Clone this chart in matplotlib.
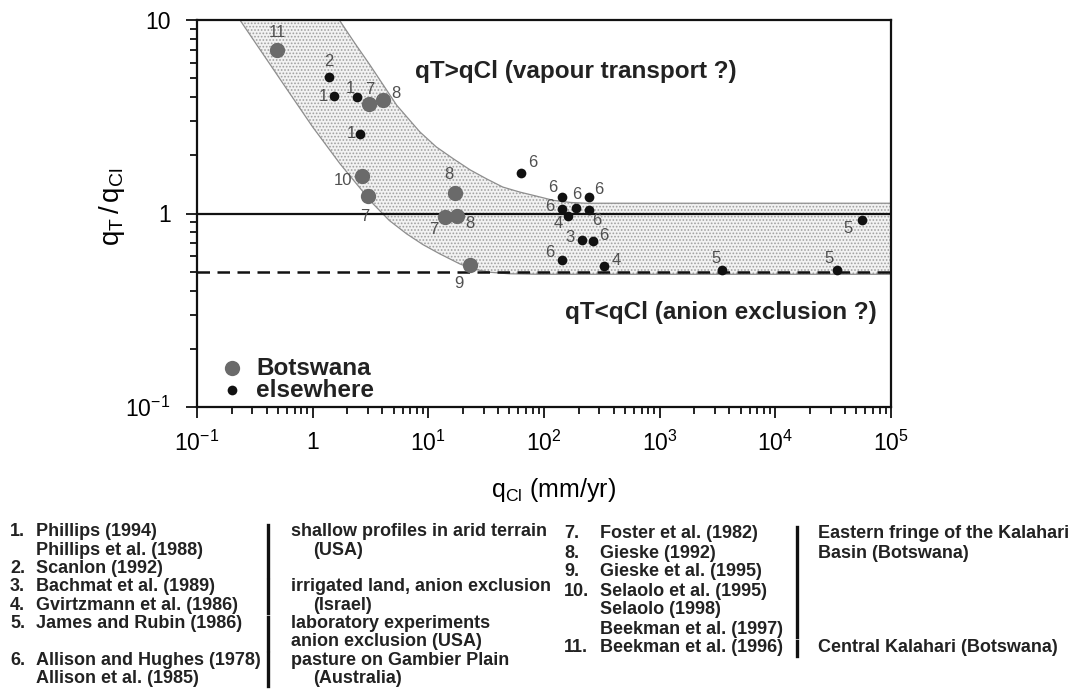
import matplotlib
matplotlib.use("Agg")
import matplotlib.pyplot as plt
from matplotlib.ticker import FixedLocator, FuncFormatter, NullFormatter

plt.rcParams["font.family"] = ["Liberation Sans", "DejaVu Sans"]
plt.rcParams["mathtext.fontset"] = "custom"
plt.rcParams["mathtext.rm"] = "Liberation Sans"
plt.rcParams["mathtext.it"] = "Liberation Sans:italic"
plt.rcParams["mathtext.bf"] = "Liberation Sans:bold"
plt.rcParams["hatch.linewidth"] = 0.8

# ---- data -------------------------------------------------------------
# Botswana studies: chloride flux q_Cl (mm/yr) and ratio q_T/q_Cl
bw_qcl = [0.49, 3.07, 4.08, 2.65, 3.03, 17.0, 13.9, 17.6, 22.9]
bw_ratio = [7.0, 3.67, 3.85, 1.56, 1.23, 1.28, 0.957, 0.976, 0.544]
bw_ref = ["11", "7", "8", "10", "7", "8", "7", "8", "9"]

# studies elsewhere
ot_qcl = [1.39, 1.53, 2.40, 2.56, 63.1, 142, 246, 142, 189, 246,
          160, 211, 263, 142, 330, 3470, 33800, 55900]
ot_ratio = [5.05, 4.04, 4.0, 2.59, 1.62, 1.22, 1.21, 1.06, 1.07, 1.04,
            0.976, 0.733, 0.725, 0.575, 0.533, 0.511, 0.511, 0.93]
ot_ref = ["2", "1", "1", "1", "6", "6", "6", "6", "6", "6",
          "4", "3", "6", "6", "4", "5", "5", "5"]

# envelope of the shaded band
band_upper_q = [1.70, 2.3, 3.13, 4.1, 5.32, 8.45, 11.7, 16.4, 23, 31.9,
                44, 61.9, 86, 120, 170, 233, 400, 1e5]
band_upper_r = [10.0, 7.63, 5.85, 4.59, 3.63, 2.64, 2.21, 1.92, 1.68, 1.51,
                1.37, 1.29, 1.23, 1.17, 1.14, 1.13, 1.13, 1.13]
band_lower_q = [0.235, 0.4, 0.6, 1.0, 1.72, 2.4, 3.34, 4.6, 6.49, 9.0,
                12.6, 18.7, 25, 34, 50, 92, 1e5]
band_lower_r = [10.0, 6.26, 4.38, 2.8, 1.81, 1.42, 1.12, 0.92, 0.785, 0.69,
                0.618, 0.549, 0.515, 0.497, 0.488, 0.485, 0.485]

# reference lines
equal_ratio = 1.0
exclusion_ratio = 0.5

x_ticks = [1e-1, 1, 1e1, 1e2, 1e3, 1e4, 1e5]
x_ticklabels = [r"$\mathregular{10^{-1}}$", "1", r"$\mathregular{10^{1}}$",
                r"$\mathregular{10^{2}}$", r"$\mathregular{10^{3}}$",
                r"$\mathregular{10^{4}}$", r"$\mathregular{10^{5}}$"]
y_ticks = [1e-1, 1, 10]
y_ticklabels = [r"$\mathregular{10^{-1}}$", "1", "10"]

# reference list printed under the chart
left_rows = [
    ("1.", "Phillips (1994)", "shallow profiles in arid terrain", False),
    ("", "Phillips et al. (1988)", "(USA)", True),
    ("2.", "Scanlon (1992)", "", False),
    ("3.", "Bachmat et al. (1989)", "irrigated land, anion exclusion", False),
    ("4.", "Gvirtzmann et al. (1986)", "(Israel)", True),
    ("5.", "James and Rubin (1986)", "laboratory experiments", False),
    ("", "", "anion exclusion (USA)", False),
    ("6.", "Allison and Hughes (1978)", "pasture on Gambier Plain", False),
    ("", "Allison et al. (1985)", "(Australia)", True),
]
left_groups = [(0, 2), (3, 4), (5, 6), (7, 8)]
right_rows = [
    ("7.", "Foster et al. (1982)", "Eastern fringe of the Kalahari"),
    ("8.", "Gieske (1992)", "Basin (Botswana)"),
    ("9.", "Gieske et al. (1995)", ""),
    ("10.", "Selaolo et al. (1995)", ""),
    ("", "Selaolo (1998)", ""),
    ("", "Beekman et al. (1997)", ""),
    ("11.", "Beekman et al. (1996)", "Central Kalahari (Botswana)"),
]
right_groups = [(0, 5), (6, 6)]

# label offsets (pixels, right / down) for the study numbers
bw_off = [(1, -17), (1, -15), (13, -7), (-19, 4), (-4, 20), (-6, -18),
          (-11, 12), (13, 8), (-11, 19)]
ot_off = [(0, -16), (-11, 0), (-6, -9), (-9, 0), (12, -10), (-9, -9),
          (10, -8), (-12, -2), (1, -13), (8, 10), (-9, 8), (-12, -2),
          (11, -5), (-12, -8), (12, -6), (-6, -11), (-7, -11), (-14, 9)]

# ---- figure -----------------------------------------------------------
W, H, DPI = 1072, 689, 100
fig = plt.figure(figsize=(W / DPI, H / DPI), dpi=DPI)
ax_l, ax_r, ax_t, ax_b = 197, 891, 20, 407
ax = fig.add_axes([ax_l / W, 1 - ax_b / H, (ax_r - ax_l) / W, (ax_b - ax_t) / H])
ax.set_xscale("log")
ax.set_yscale("log")
ax.set_xlim(1e-1, 1e5)
ax.set_ylim(1e-1, 10)

# shaded band
poly_q = band_lower_q + band_upper_q[::-1]
poly_r = band_lower_r + band_upper_r[::-1]
ax.fill(poly_q, poly_r, facecolor="#f2f2f2", edgecolor="#a0a0a0",
        hatch=".....", linewidth=0, zorder=1)
ax.plot(band_upper_q, band_upper_r, color="#8e8e8e", lw=0.9, zorder=2)
ax.plot(band_lower_q, band_lower_r, color="#8e8e8e", lw=0.9, zorder=2)

ax.axhline(equal_ratio, color="#111111", lw=1.6, zorder=3)
ax.axhline(exclusion_ratio, color="#111111", lw=1.8, dashes=(5, 3), zorder=3)

ax.plot(bw_qcl, bw_ratio, "o", ms=11, color="#6a6a6a", mec="none", zorder=4)
ax.plot(ot_qcl, ot_ratio, "o", ms=7, color="#111111", mec="none", zorder=5)

px = 72 / DPI
for q, r, t, (dx, dy) in zip(bw_qcl + ot_qcl, bw_ratio + ot_ratio,
                             bw_ref + ot_ref, bw_off + ot_off):
    ax.annotate(t, (q, r), xytext=(dx * px, -dy * px), textcoords="offset points",
                ha="center", va="center", fontsize=12, color="#505050", zorder=6)

ax.text(0.314, 0.866, "qT>qCl (vapour transport ?)", transform=ax.transAxes,
        fontsize=17.5, fontweight="bold", color="#222222", ha="left", va="center")
ax.text(0.530, 0.243, "qT<qCl (anion exclusion ?)", transform=ax.transAxes,
        fontsize=17.5, fontweight="bold", color="#222222", ha="left", va="center")

# legend
leg_y = [0.100, 0.043]
ax.plot([0.0504], [leg_y[0]], "o", ms=11, color="#6a6a6a", mec="none",
        transform=ax.transAxes, zorder=6)
ax.plot([0.0504], [leg_y[1]], "o", ms=7, color="#111111", mec="none",
        transform=ax.transAxes, zorder=6)
ax.text(0.085, leg_y[0], "Botswana", transform=ax.transAxes, fontsize=17.5,
        fontweight="bold", color="#222222", va="center")
ax.text(0.085, leg_y[1], "elsewhere", transform=ax.transAxes, fontsize=17.5,
        fontweight="bold", color="#222222", va="center")

# axes styling
for s in ax.spines.values():
    s.set_linewidth(1.6)
    s.set_color("#111111")
ax.xaxis.set_major_locator(FixedLocator(x_ticks))
ax.xaxis.set_major_formatter(FuncFormatter(lambda v, p: x_ticklabels[p] if p is not None and p < len(x_ticklabels) else ""))
ax.yaxis.set_major_locator(FixedLocator(y_ticks))
ax.yaxis.set_major_formatter(FuncFormatter(lambda v, p: y_ticklabels[p] if p is not None and p < len(y_ticklabels) else ""))
ax.xaxis.set_minor_formatter(NullFormatter())
ax.yaxis.set_minor_formatter(NullFormatter())
ax.tick_params(which="both", direction="out", top=False, right=False,
               color="#111111", width=1.3)
ax.tick_params(which="major", length=8, labelsize=16.5)
ax.tick_params(axis="x", which="major", pad=9)
ax.tick_params(axis="y", which="major", pad=11)
ax.tick_params(which="minor", length=5)

fig.text(112 / W, 1 - 207 / H, r"$\mathregular{q_T\,/\,q_{Cl}}$", rotation=90,
         fontsize=20, ha="center", va="center")
fig.text(553 / W, 1 - 490 / H, r"$\mathregular{q_{Cl}}$ (mm/yr)",
         fontsize=18, ha="center", va="center")

# reference list
def fy(y):
    return 1 - y / H

txt = dict(fontsize=13, fontweight="bold", color="#222222", va="center")
y0, dy = 532, 18.3
for i, (num, ref, desc, indent) in enumerate(left_rows):
    y = y0 + i * dy
    if num:
        fig.text(10 / W, fy(y), num, **txt)
    if ref:
        fig.text(36 / W, fy(y), ref, **txt)
    if desc:
        fig.text((313 if indent else 291) / W, fy(y), desc, **txt)
for a, b in left_groups:
    fig.add_artist(plt.Line2D([268 / W, 268 / W], [fy(y0 + a * dy - 7), fy(y0 + b * dy + 8)],
                              color="#111111", lw=2.4))

y0r, dyr = 534, 19.0
for i, (num, ref, desc) in enumerate(right_rows):
    y = y0r + i * dyr
    if num:
        fig.text(564 / W, fy(y), num, **txt)
    fig.text(599.6 / W, fy(y), ref, **txt)
    if desc:
        fig.text(818 / W, fy(y), desc, **txt)
for a, b in right_groups:
    fig.add_artist(plt.Line2D([797 / W, 797 / W], [fy(y0r + a * dyr - 7), fy(y0r + b * dyr + 8)],
                              color="#111111", lw=2.4))

fig.savefig("out.png", dpi=DPI)
